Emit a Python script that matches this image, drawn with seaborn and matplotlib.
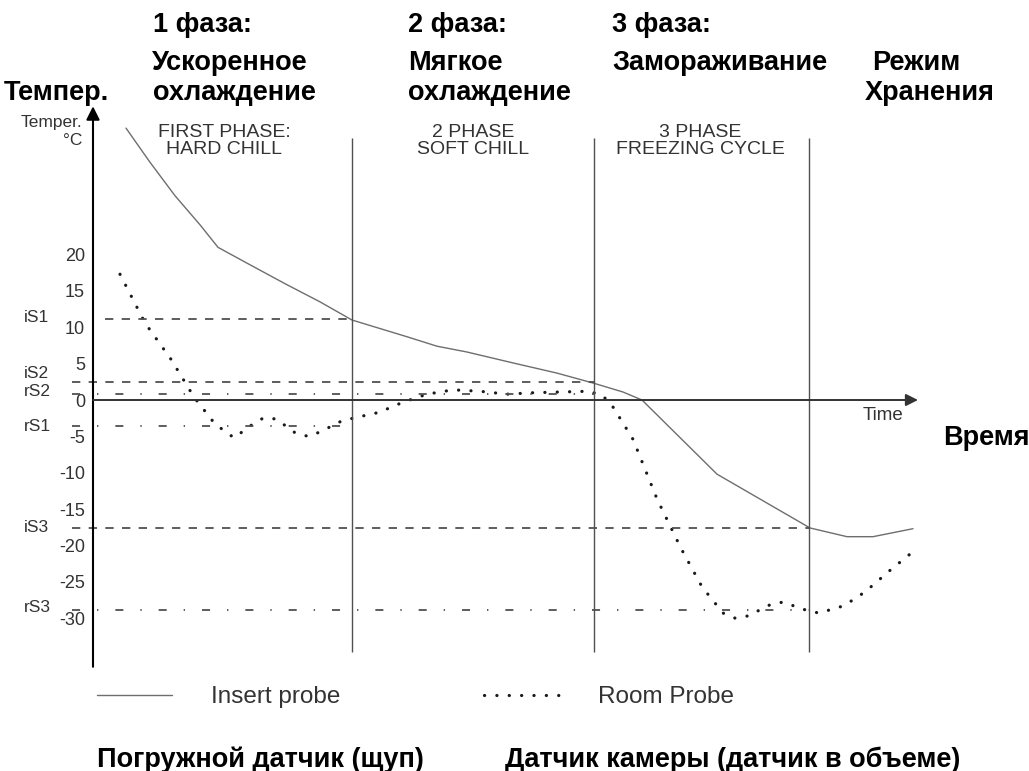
import matplotlib
matplotlib.use('Agg')
import matplotlib.pyplot as plt
import seaborn as sns

# ── DATA ─────────────────────────────────────────────────────────────────────
# time in arbitrary units, temperature in °C
insert_time = [3.3, 5.7, 8.2, 10.7, 12.5, 15.7, 19.2, 22.7, 25.9, 31.4, 34.4,
               37.4, 42.0, 46.4, 50.1, 53.0, 54.9, 62.4, 71.7, 75.4, 78.0, 82.0]
insert_temp = [37.4, 32.7, 28.1, 24.1, 21.0, 18.6, 16.0, 13.5, 11.0, 8.7, 7.4,
               6.6, 5.1, 3.7, 2.3, 1.1, 0.0, -10.2, -17.6, -18.8, -18.8, -17.7]

room_time = [2.7, 5.2, 7.8, 10.1, 12.2, 14.1, 15.9, 17.0, 18.3, 20.2, 21.5, 22.7,
             24.7, 26.0, 28.6, 31.0, 33.4, 36.0, 38.7, 41.4, 44.0, 46.7, 49.4,
             50.7, 51.7, 54.0, 56.4, 58.8, 60.9, 63.0, 64.2, 65.5, 67.8, 69.0,
             71.5, 72.6, 75.1, 77.2, 79.9, 81.7]
room_temp = [17.3, 10.6, 5.6, 0.4, -3.3, -5.2, -3.4, -2.5, -2.6, -4.5, -5.0, -4.4,
             -3.0, -2.5, -1.7, -0.3, 0.8, 1.4, 1.2, 0.8, 1.0, 1.1, 1.2,
             0.8, -0.3, -5.4, -13.6, -20.4, -25.7, -29.3, -30.0, -29.7, -28.1, -27.8,
             -29.0, -29.3, -28.3, -26.4, -23.2, -21.2]

set_names  = ['iS1', 'iS2', 'rS2', 'rS1', 'iS3', 'rS3']
set_values = [11.1, 2.5, 0.8, -3.6, -17.6, -28.9]
set_start  = [1.2, -2.1, -2.1, -2.1, -2.1, -2.1]
set_end    = [25.9, 50.1, 50.1, 25.9, 71.6, 71.6]
set_label_nudge = [0.2, 1.2, 0.4, 0.0, 0.0, 0.3]

phase_ends = [25.9, 50.1, 71.6]
phase_titles = [('FIRST PHASE:', 'HARD CHILL'), ('2 PHASE', 'SOFT CHILL'),
                ('3 PHASE', 'FREEZING CYCLE')]
phase_centers = [224, 473, 700]   # px

y_ticks  = [20, 15, 10, 5, 0, -5, -10, -15, -20, -25, -30]
y_labels = ['20', '15', '10', '5', '0', '-5', '-10', '-15', '-20', '-25', '-30']

# russian annotations: (text, x px, baseline px)
ru_notes = [
    ('1 фаза:', 153, 32), ('Ускоренное', 152, 70), ('охлаждение', 153, 100),
    ('2 фаза:', 408, 32), ('Мягкое', 408, 70), ('охлаждение', 408, 100),
    ('3 фаза:', 612, 32), ('Замораживание', 612, 70),
    ('Режим', 872, 70), ('Хранения', 865, 100),
    ('Темпер.', 4, 100), ('Время', 943, 445),
    ('Погружной датчик (щуп)', 97, 767),
    ('Датчик камеры (датчик в объеме)', 505, 767),
]

# ── STYLE ────────────────────────────────────────────────────────────────────
sns.set_style('white')
plt.rcParams['font.family'] = ['Liberation Sans', 'DejaVu Sans']
plt.rcParams['lines.scale_dashes'] = False

W, H = 1029, 771
DASH = (0, (6, 6))
DASHDOT = (0, (5.8, 12.2, 1.0, 12.2))
GREY = '#505050'


def fx(px):
    return px / W


def fy(py):
    return 1 - py / H


fig = plt.figure(figsize=(W / 100, H / 100), dpi=100)
ax = fig.add_axes([0, 0, 1, 1])

# probes
sns.lineplot(x=insert_time, y=insert_temp, ax=ax, estimator=None, color='#6e6e6e',
             linewidth=1.0, label='Insert probe')
sns.lineplot(x=room_time, y=room_temp, ax=ax, estimator=None, color='#1a1a1a',
             linewidth=2.3, linestyle=(0, (0.1, 8.8)), dash_capstyle='round',
             label='Room Probe')

# set points
for name, val, x0, x1, nudge in zip(set_names, set_values, set_start, set_end, set_label_nudge):
    ls = DASH if name.startswith('i') else DASHDOT
    ax.hlines(val, x0, x1, colors=GREY, linewidth=1.3, linestyles=[ls])
    ax.text(-6.9, val + nudge, name, fontsize=12.5, color='#333333',
            ha='left', va='center')

# phase separators
ax.vlines(phase_ends, -34.7, 36.0, colors=GREY, linewidth=1.0)

# axes arrows
ax.annotate('', xy=(0, 40.4), xytext=(0, -36.7),
            arrowprops=dict(arrowstyle='-|>', color='black', lw=1.5,
                            shrinkA=0, shrinkB=0, mutation_scale=20))
ax.annotate('', xy=(82.5, 0), xytext=(0, 0),
            arrowprops=dict(arrowstyle='-|>', color='#333333', lw=1.4,
                            shrinkA=0, shrinkB=0, mutation_scale=18))

ax.set_xlim(-9.3, 93.6)
ax.set_ylim(-51.03, 55.02)
for s in ax.spines.values():
    s.set_visible(False)
ax.spines['left'].set_position(('data', 0))
ax.set_xticks([])
ax.set_yticks(y_ticks, labels=y_labels)
ax.tick_params(axis='y', direction='in', length=6, width=1.1, color='#a8a8a8',
               labelsize=13, labelcolor='#333333', pad=5.8)
ax.grid(False)

# english labels on the drawing
for (l1, l2), cx in zip(phase_titles, phase_centers):
    fig.text(fx(cx), fy(137), l1, ha='center', va='baseline', fontsize=14, color='#333333')
    fig.text(fx(cx), fy(154), l2, ha='center', va='baseline', fontsize=14, color='#333333')
fig.text(fx(82), fy(127), 'Temper.', ha='right', va='baseline', fontsize=12.5, color='#333333')
fig.text(fx(82), fy(145), '°C', ha='right', va='baseline', fontsize=12.5, color='#333333')
fig.text(fx(863), fy(420), 'Time', ha='left', va='baseline', fontsize=13.5, color='#333333')

# legend
ax.legend(loc='center left', bbox_to_anchor=(fx(97), fy(697)), ncol=2, frameon=False,
          fontsize=17.5, labelcolor='#333333', handlelength=3.1, handletextpad=1.6,
          columnspacing=5.9, borderpad=0, borderaxespad=0)

# russian annotations
for txt, x, y in ru_notes:
    fig.text(fx(x), fy(y), txt, ha='left', va='baseline', fontsize=19.5,
             fontweight='bold', color='black')

plt.savefig('out.png', dpi=100)
plt.close()
